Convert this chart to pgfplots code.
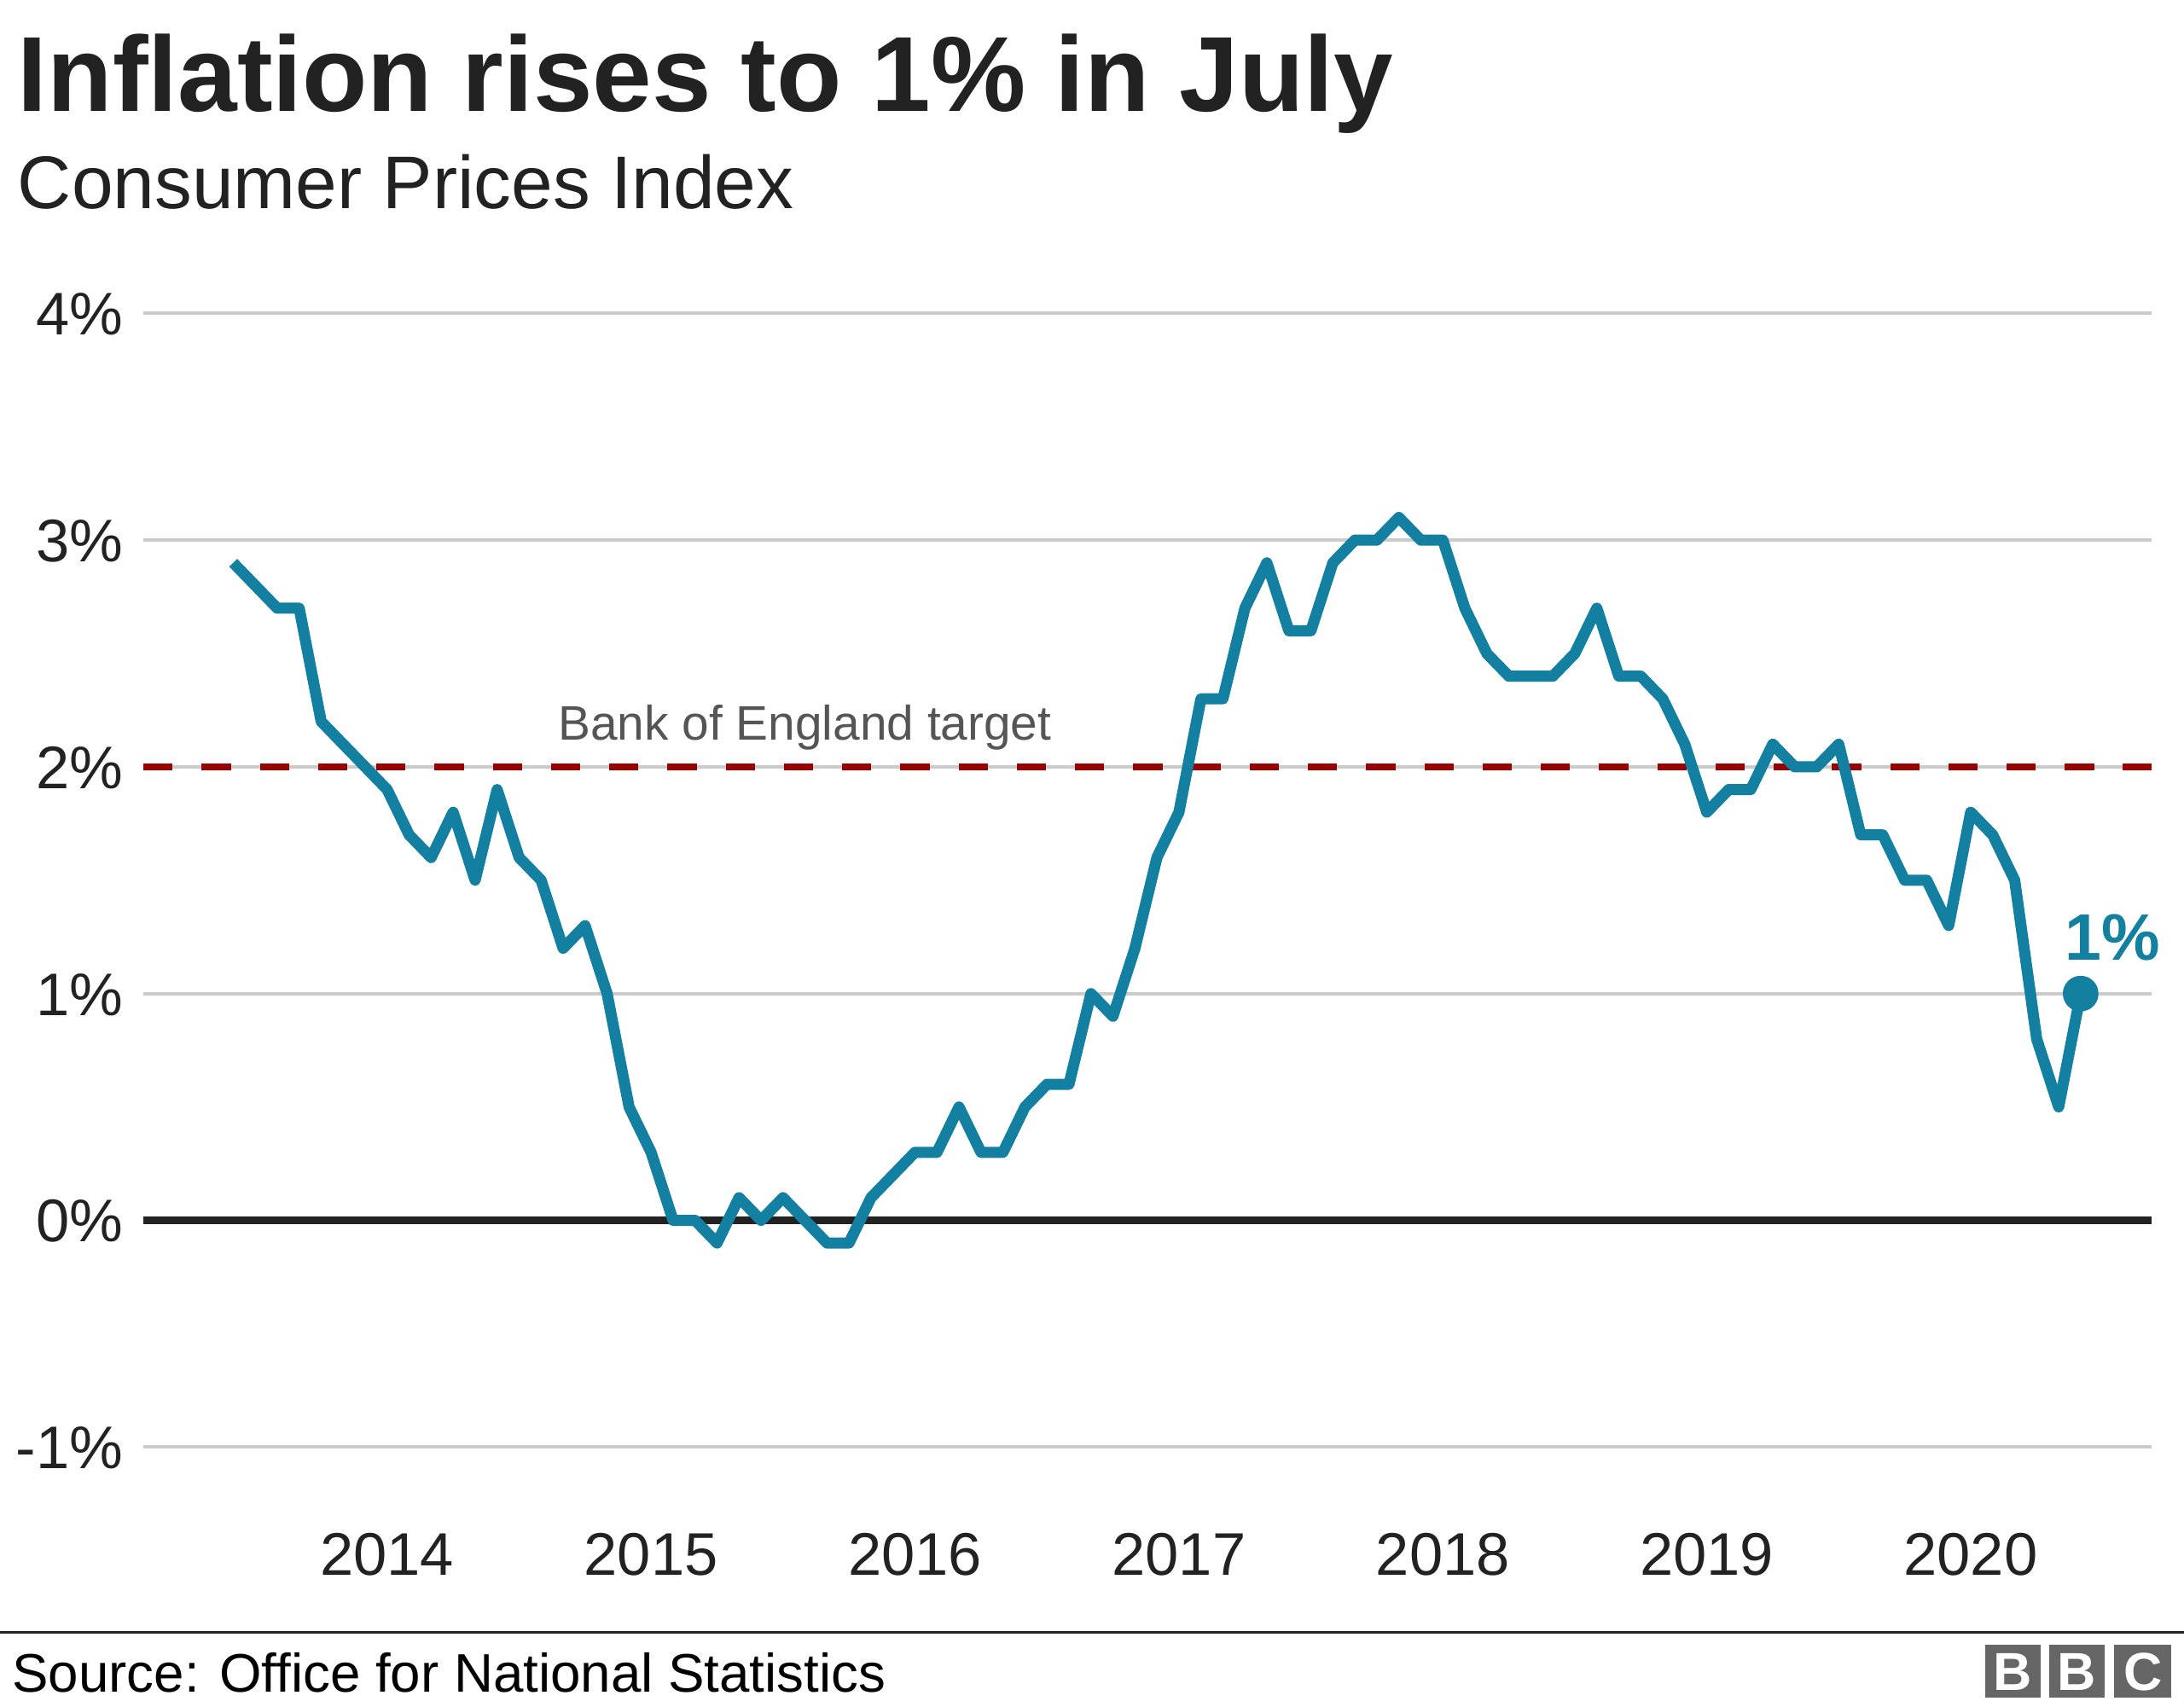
\documentclass[border=0pt]{standalone}
\usepackage{fontspec}
\setmainfont{Liberation Sans}
\usepackage{pgfplots}
\usepackage{pgfplotstable}
\pgfplotsset{compat=1.18}
\definecolor{bbcblue}{HTML}{1380A1}
\definecolor{bbcred}{HTML}{990000}
\definecolor{txt}{HTML}{222222}
\definecolor{gridc}{HTML}{CBCBCB}
\definecolor{logogrey}{HTML}{666666}
\definecolor{annot}{HTML}{555555}

% month index: 0 = Jan 2014
\pgfplotstableread{
m v
-7 2.9
-6 2.8
-5 2.7
-4 2.7
-3 2.2
-2 2.1
-1 2.0
0 1.9
1 1.7
2 1.6
3 1.8
4 1.5
5 1.9
6 1.6
7 1.5
8 1.2
9 1.3
10 1.0
11 0.5
12 0.3
13 0.0
14 0.0
15 -0.1
16 0.1
17 0.0
18 0.1
19 0.0
20 -0.1
21 -0.1
22 0.1
23 0.2
24 0.3
25 0.3
26 0.5
27 0.3
28 0.3
29 0.5
30 0.6
31 0.6
32 1.0
33 0.9
34 1.2
35 1.6
36 1.8
37 2.3
38 2.3
39 2.7
40 2.9
41 2.6
42 2.6
43 2.9
44 3.0
45 3.0
46 3.1
47 3.0
48 3.0
49 2.7
50 2.5
51 2.4
52 2.4
53 2.4
54 2.5
55 2.7
56 2.4
57 2.4
58 2.3
59 2.1
60 1.8
61 1.9
62 1.9
63 2.1
64 2.0
65 2.0
66 2.1
67 1.7
68 1.7
69 1.5
70 1.5
71 1.3
72 1.8
73 1.7
74 1.5
75 0.8
76 0.5
77 1.0
}\cpi

\begin{document}
\begin{tikzpicture}[x=0.25pt,y=0.25pt]
\path[use as bounding box] (0,0) rectangle (1568,1225);

% titles
\node[anchor=base west, inner sep=0pt, text=txt, font=\fontsize{19.15}{23}\selectfont\bfseries] at (12,1145) {Inflation rises to 1\% in July};
\node[anchor=base west, inner sep=0pt, text=txt, font=\fontsize{13.4}{16}\selectfont] at (12,1075) {Consumer Prices Index};

\begin{axis}[
  at={(25.75pt,46.5pt)}, anchor=south west,
  scale only axis, width=360.5pt, height=203.5pt,
  xmin=-11.08, xmax=80.24, ymin=-1, ymax=4,
  axis line style={draw=none},
  major tick length=0pt,
  xtick={0,12,24,36,48,60,72},
  xticklabels={2014,2015,2016,2017,2018,2019,2020},
  ytick={-1,0,1,2,3,4},
  yticklabels={-1\%,0\%,1\%,2\%,3\%,4\%},
  ymajorgrids, grid style={gridc, line width=0.6pt},
  tick label style={font=\fontsize{10.8}{13}\selectfont, text=txt},
  xticklabel style={anchor=base, yshift=-23pt, inner sep=0pt},
  yticklabel style={anchor=base east, xshift=-3.5pt, yshift=-3.87pt, inner sep=0pt},
  clip=false,
]
\addplot[txt, line width=1.25pt, forget plot] coordinates {(-11.08,0) (80.24,0)};
\addplot[bbcred, line width=1.25pt, dash pattern=on 5.25pt off 5.2pt, forget plot] coordinates {(-11.08,2) (80.24,2)};
\addplot[bbcblue, line width=2pt, line join=round, no marks, forget plot] table[x=m,y=v] {\cpi};
\addplot[bbcblue, only marks, mark=*, mark size=3pt, forget plot] coordinates {(77,1.0)};
\node[anchor=base west, inner sep=0pt, text=annot, font=\fontsize{8.7}{10}\selectfont] at (axis cs:7.73,2.12) {Bank of England target};
\node[anchor=base west, inner sep=0pt, text=bbcblue, font=\fontsize{11.8}{14}\selectfont\bfseries] at (axis cs:76.25,1.146) {1\%};
\end{axis}

% footer
\draw[txt, line width=0.6pt] (0,53) -- (1568,53);
\node[anchor=base west, inner sep=0pt, text=black, font=\fontsize{9.75}{12}\selectfont] at (8,10) {Source: Office for National Statistics};
\fill[logogrey] (1425,6) rectangle (1465,44);
\fill[logogrey] (1471,6) rectangle (1511,44);
\fill[logogrey] (1518,6) rectangle (1559,44);
\node[anchor=base, inner sep=0pt, text=white, font=\fontsize{9.6}{11}\selectfont\bfseries] at (1445,11.5) {B};
\node[anchor=base, inner sep=0pt, text=white, font=\fontsize{9.6}{11}\selectfont\bfseries] at (1491,11.5) {B};
\node[anchor=base, inner sep=0pt, text=white, font=\fontsize{9.6}{11}\selectfont\bfseries] at (1538.5,11.5) {C};
\end{tikzpicture}
\end{document}
